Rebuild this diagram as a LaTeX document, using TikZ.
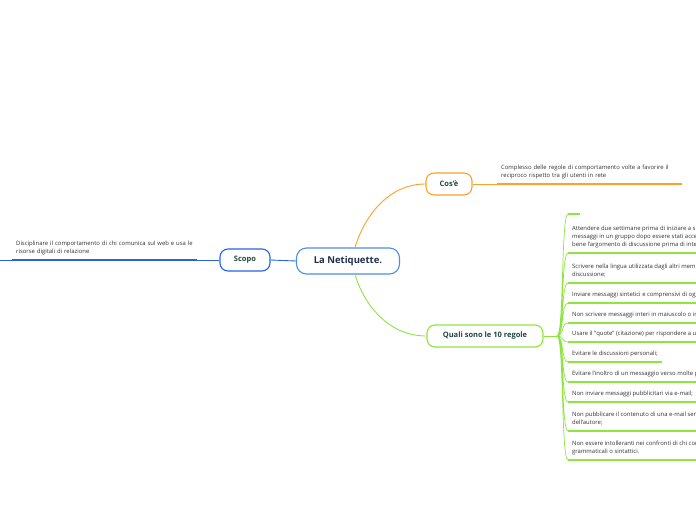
\documentclass[tikz,border=0pt]{standalone}
\usepackage{fontspec}
\setmainfont{Open Sans}
\usepackage{tikz}
\usetikzlibrary{positioning}
\definecolor{rootblue}{HTML}{4A90E2}
\definecolor{scopoblue}{HTML}{2563EB}
\definecolor{cosorange}{HTML}{FBA229}
\definecolor{rulegreen}{HTML}{8EE53F}
\definecolor{titleink}{HTML}{1E4A3A}
\definecolor{rootink}{HTML}{1F2F4D}
\definecolor{noteink}{HTML}{333333}

\begin{document}
\begin{tikzpicture}[
    x=1pt, y=-1pt,
    root/.style={rectangle, rounded corners=10pt, draw=rootblue, fill=white,
                 line width=1.1pt, minimum width=103pt, minimum height=26pt,
                 font=\fontsize{9.5}{11}\selectfont\bfseries, text=rootink},
    topic/.style={rectangle, rounded corners=8pt, draw=#1, fill=white,
                  line width=1.1pt, minimum height=22pt,
                  font=\fontsize{7.5}{9}\selectfont\bfseries, text=titleink},
    note/.style={anchor=south west, inner xsep=4pt, inner ysep=3.5pt,
                 text depth=2.5pt, align=left,
                 font=\fontsize{5.9}{8}\selectfont, text=noteink},
    widenote/.style={note, text depth=, inner ysep=4.5pt, text width=177pt},
    branch/.style={draw=#1, line width=0.9pt},
    uline/.style={draw=#1, line width=1.8pt}
]
\useasboundingbox (0,0) rectangle (696,520);
\clip (0,0) rectangle (696,520);

% Centre
\node[root] (net) at (348,261) {La Netiquette.};

% Topics
\node[topic=cosorange, minimum width=46pt] (cos) at (449,184) {Cos'è};
\node[topic=scopoblue, minimum width=50pt] (scopo) at (245,260) {Scopo};
\node[topic=rulegreen, minimum width=116pt] (quali) at (485,336) {Quali sono le 10 regole};

% Notes
\node[widenote] (cosnote) at (497,184)
    {Complesso delle regole di comportamento volte a favorire il\\reciproco rispetto tra gli utenti in rete};
\node[widenote] (scoponote) at (12,260)
    {Disciplinare il comportamento di chi comunica sul web e usa le\\risorse digitali di relazione};
\coordinate (leftedge) at (0,260);

% The rules
\coordinate (hub) at (557,336);
\node[note, minimum width=12pt, minimum height=4pt, inner sep=0pt, text depth=0pt] (r0) at (568,214) {};
\node[note] (r1) at (568,253)
    {Attendere due settimane prima di iniziare a spedire\\messaggi in un gruppo dopo essere stati accettati, per capire\\bene l'argomento di discussione prima di intervenire;};
\node[note] (r2) at (568,283)
    {Scrivere nella lingua utilizzata dagli altri membri del gruppo di\\discussione;};
\node[note] (r3) at (568,303) {Inviare messaggi sintetici e comprensivi di oggetto;};
\node[note] (r4) at (568,323) {Non scrivere messaggi interi in maiuscolo o in grassetto;};
\node[note] (r5) at (568,342) {Usare il "quote" (citazione) per rispondere a un messaggio;};
\node[note] (r6) at (568,362) {Evitare le discussioni personali;};
\node[note] (r7) at (568,382) {Evitare l'inoltro di un messaggio verso molte persone;};
\node[note] (r8) at (568,402) {Non inviare messaggi pubblicitari via e-mail;};
\node[note] (r9) at (568,431)
    {Non pubblicare il contenuto di una e-mail senza il consenso\\dell'autore;};
\node[note] (r10) at (568,460)
    {Non essere intolleranti nei confronti di chi commette errori\\grammaticali o sintattici.};

% Branches from the centre
\draw[branch=cosorange] ([xshift=7pt]net.north) .. controls +(10,-33) and +(-36,0) .. (cos.west);
\draw[branch=rulegreen] ([xshift=7pt]net.south) .. controls +(10,33) and +(-36,0) .. (quali.west);
\draw[branch=scopoblue] (net.west) -- (scopo.east);

% Note lines
\draw[branch=cosorange] (cos.east) -- (cosnote.south west);
\draw[uline=cosorange] (cosnote.south west) -- (cosnote.south east);
\draw[branch=scopoblue] (scopo.west) -- (scoponote.south east);
\draw[uline=scopoblue] (scoponote.south east) -- (scoponote.south west);
\draw[branch=scopoblue] (scoponote.south west) -- (leftedge);

% Rule fan
\draw[branch=rulegreen] (quali.east) -- (hub);
\draw[branch=rulegreen, line width=0.7pt]
    (hub) .. controls +(7,0) and +(-7,0) .. (r0.south west)
    (hub) .. controls +(7,0) and +(-7,0) .. (r1.south west)
    (hub) .. controls +(7,0) and +(-7,0) .. (r2.south west)
    (hub) .. controls +(7,0) and +(-7,0) .. (r3.south west)
    (hub) .. controls +(7,0) and +(-7,0) .. (r4.south west)
    (hub) .. controls +(7,0) and +(-7,0) .. (r5.south west)
    (hub) .. controls +(7,0) and +(-7,0) .. (r6.south west)
    (hub) .. controls +(7,0) and +(-7,0) .. (r7.south west)
    (hub) .. controls +(7,0) and +(-7,0) .. (r8.south west)
    (hub) .. controls +(7,0) and +(-7,0) .. (r9.south west)
    (hub) .. controls +(7,0) and +(-7,0) .. (r10.south west);
\draw[uline=rulegreen]
    (r0.south west) -- (r0.south east)
    (r1.south west) -- (r1.south east)
    (r2.south west) -- (r2.south east)
    (r3.south west) -- (r3.south east)
    (r4.south west) -- (r4.south east)
    (r5.south west) -- (r5.south east)
    (r6.south west) -- (r6.south east)
    (r7.south west) -- (r7.south east)
    (r8.south west) -- (r8.south east)
    (r9.south west) -- (r9.south east)
    (r10.south west) -- (r10.south east);

\end{tikzpicture}
\end{document}
